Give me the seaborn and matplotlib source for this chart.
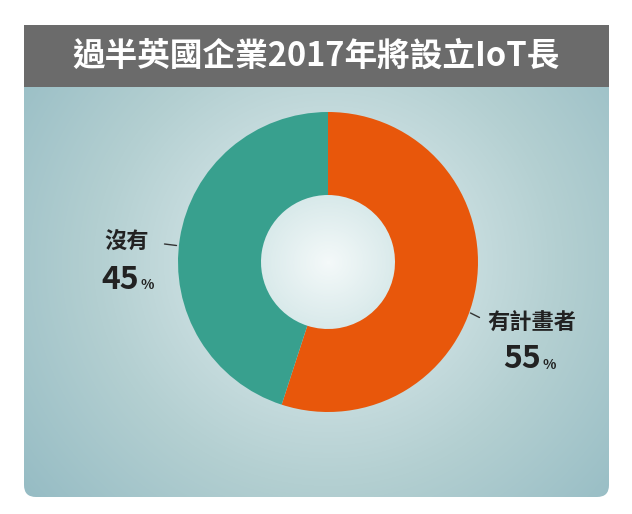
import numpy as np
import matplotlib
matplotlib.use("Agg")
import matplotlib.pyplot as plt
from matplotlib.patches import FancyBboxPatch, Rectangle
from matplotlib.colors import LinearSegmentedColormap
import seaborn as sns

sns.set_style("white")
plt.rcParams["font.family"] = ["Noto Sans CJK TC", "DejaVu Sans"]

# Survey shares
categories = ["有計畫者", "沒有"]
shares = [55, 45]
colors = ["#e8570b", "#38a08e"]
title = "過半英國企業2017年將設立IoT長"

W, H = 632, 514
fig = plt.figure(figsize=(W / 100, H / 100), dpi=100)
fig.patch.set_facecolor("white")

# Canvas in pixel units for the panel and its background
bg = fig.add_axes([0, 0, 1, 1])
bg.set_xlim(0, W)
bg.set_ylim(H, 0)
bg.axis("off")

px0, px1, py0, py1 = 24, 609, 25, 497
cx, cy, R = 328, 262, 150

# radial background gradient centred on the donut
yy, xx = np.mgrid[py0:py1, px0:px1]
dist = np.hypot(xx - cx, (yy - cy) * 1.05)
ramp = LinearSegmentedColormap.from_list(
    "panel",
    [(0.0, "#f4f9f9"), (0.18, "#d8e9ea"), (0.42, "#c2d9db"),
     (0.6, "#b3cfd1"), (1.0, "#96bcc4")])
img = bg.imshow(dist / 390.0, cmap=ramp, vmin=0, vmax=1,
                extent=(px0, px1, py1, py0), origin="upper",
                interpolation="bilinear", zorder=1)
panel = FancyBboxPatch((px0, py0), px1 - px0, py1 - py0,
                       boxstyle="round,pad=0,rounding_size=12",
                       transform=bg.transData, facecolor="none",
                       edgecolor="none")
bg.add_patch(panel)
img.set_clip_path(panel)

# title bar
bg.add_patch(Rectangle((px0, py0), px1 - px0, 62, facecolor="#6b6b6b",
                       edgecolor="none", zorder=2))
bg.text((px0 + px1) / 2, py0 + 31, title, color="white", fontsize=23.5,
        fontweight="heavy", ha="center", va="center", zorder=3)

# donut chart
ax = fig.add_axes([(cx - R) / W, (H - cy - R) / H, 2 * R / W, 2 * R / H])
ax.pie(shares, colors=colors, startangle=90, counterclock=False,
       radius=1.0, wedgeprops=dict(width=1 - 67 / 150, edgecolor="none"))
ax.set_xlim(-1, 1)
ax.set_ylim(-1, 1)
ax.set_aspect("auto")
ax.axis("off")

lab_color = "#222222"


def label(name, value, name_xy, value_xy, leader):
    ax.plot(*leader, color="#333333", lw=1, clip_on=False)
    ax.text(*name_xy, name, fontsize=16, fontweight="bold",
            color=lab_color, ha="left", va="center", clip_on=False)
    num = ax.text(*value_xy, f"{value}", fontsize=23, fontweight="heavy",
                  color=lab_color, ha="left", va="center", clip_on=False)
    ax.annotate("%", xy=(1, 0.12), xycoords=num, xytext=(1, 0),
                textcoords="offset points", fontsize=10, fontweight="bold",
                color=lab_color, ha="left", va="bottom", annotation_clip=False)


# labels with short leader lines
label(categories[1], shares[1], (-1.49, 0.13), (-1.51, -0.12),
      ([-1.09, -1.01], [0.12, 0.11]))
label(categories[0], shares[0], (1.06, -0.41), (1.17, -0.65),
      ([0.95, 1.01], [-0.34, -0.37]))

fig.savefig("out.png", dpi=100, facecolor="white")
